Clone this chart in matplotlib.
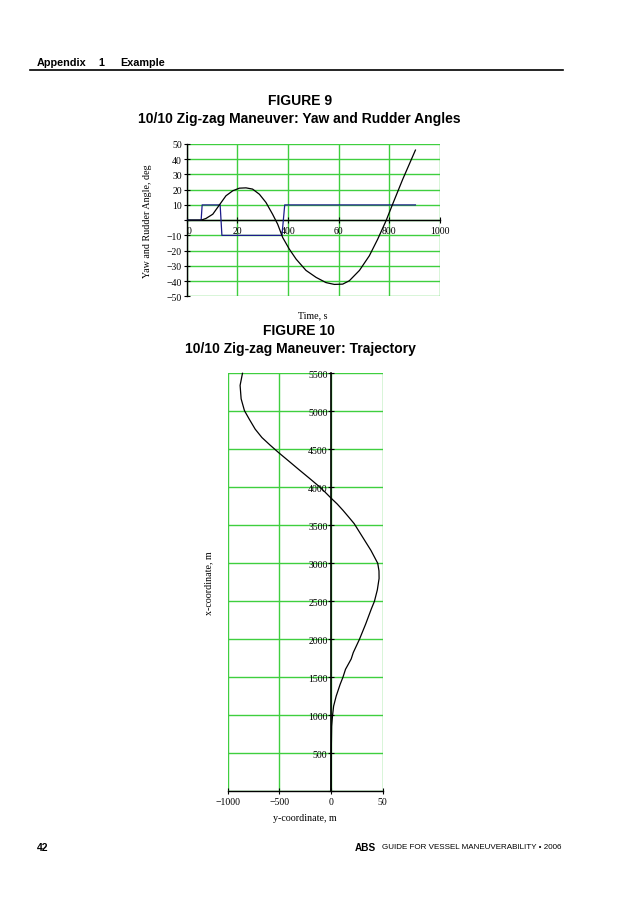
import matplotlib
matplotlib.use("Agg")
import matplotlib.pyplot as plt
from matplotlib.lines import Line2D
from matplotlib import font_manager

# ---------------- data ----------------
# Figure 9: yaw angle and rudder angle vs time
yaw_time = [0, 57, 76, 103, 133, 155, 182, 208, 234, 260, 287, 313, 339, 359,
            379, 405, 432, 471, 511, 550, 583, 616, 642, 682, 721, 754, 787,
            813, 853, 903]
yaw_deg = [0, 0, 1.1, 3.9, 10.9, 16.0, 19.3, 21.0, 21.2, 20.4, 17.0, 11.6, 3.9, -2.6,
           -11.4, -19.0, -25.6, -33.0, -37.6, -41.0, -42.2, -42.0, -39.8, -33.0, -23.4,
           -12.5, -0.4, 10.5, 26.9, 46.0]

rudder_time = [0, 57, 61, 132, 139, 376, 387, 903]
rudder_deg = [0, 0, 10, 10, -10, -10, 10, 10]

fig9_xticks = [0, 200, 400, 600, 800, 1000]
fig9_xticklabels = ['0', '20', '400', '60', '800', '1000']
fig9_yticks = [-50, -40, -30, -20, -10, 0, 10, 20, 30, 40, 50]
fig9_yticklabels = ['\u221250', '\u221240', '\u221230', '\u221220', '\u221210', '',
                    '10', '20', '30', '40', '50']

# Figure 10: trajectory (x-coordinate along the vertical axis, y-coordinate horizontal)
traj_x = [0, 500, 857, 989, 1121, 1253, 1407, 1500, 1605, 1741, 1825, 2000, 2200,
          2400, 2500, 2650, 2800, 2900, 3000, 3170, 3346, 3522, 3610, 3698, 3780,
          3858, 3940, 4013, 4124, 4234, 4345, 4456, 4553, 4655, 4765, 4898, 5009,
          5164, 5341, 5500]
traj_y = [0, 2, 6, 14, 25, 50, 88, 115, 140, 195, 215, 275, 335,
          390, 420, 448, 465, 464, 452, 386, 305, 224, 170, 115, 60,
          0, -60, -117, -214, -312, -409, -507, -588, -669, -734, -792, -838,
          -870, -880, -857]

fig10_xticks = [-1000, -500, 0, 500]
fig10_xticklabels = ['\u22121000', '\u2212500', '0', '50']
fig10_yticks = [0, 500, 1000, 1500, 2000, 2500, 3000, 3500, 4000, 4500, 5000, 5500]
fig10_yticklabels = [''] + [str(v) for v in fig10_yticks[1:]]

# ---------------- styles ----------------
W, H = 638, 903
GREEN = '#3fcf3f'
BLUE = '#1c1c8a'
SERIF = ['Liberation Serif', 'DejaVu Serif']
SANS = ['Liberation Sans', 'DejaVu Sans']
TICK_FS = 7
LABEL_FS = 7.2

installed = {f.name for f in font_manager.fontManager.ttflist}
if 'Liberation Sans Narrow' in installed:
    FOOT_FAMILY, FOOT_FS = ['Liberation Sans Narrow', 'Liberation Sans'], 6.9
else:
    FOOT_FAMILY, FOOT_FS = SANS, 5.8

fig = plt.figure(figsize=(W / 100, H / 100), dpi=100)


def fx(px):
    return px / W


def fy(py):
    return 1 - py / H


# header
fig.text(fx(37), fy(63), 'Appendix', family=SANS, fontweight='bold', fontsize=7.8,
         ha='left', va='center')
fig.text(fx(98), fy(63), '1', family=SANS, fontweight='bold', fontsize=7.8,
         ha='left', va='center')
fig.text(fx(120), fy(63), 'Example', family=SANS, fontweight='bold', fontsize=7.8,
         ha='left', va='center')
fig.add_artist(Line2D([fx(30), fx(563)], [fy(70.5), fy(70.5)], color='black',
                      lw=1.2, transform=fig.transFigure))

# titles
fig.text(fx(300), fy(101), 'FIGURE 9', family=SANS, fontweight='bold', fontsize=10,
         ha='center', va='center')
fig.text(fx(299), fy(119), '10/10 Zig-zag Maneuver: Yaw and Rudder Angles', family=SANS,
         fontweight='bold', fontsize=10, ha='center', va='center')
fig.text(fx(299), fy(331), 'FIGURE 10', family=SANS, fontweight='bold', fontsize=10,
         ha='center', va='center')
fig.text(fx(300), fy(349), '10/10 Zig-zag Maneuver: Trajectory', family=SANS,
         fontweight='bold', fontsize=10, ha='center', va='center')

# footer
fig.text(fx(37), fy(848), '42', family=SANS, fontweight='bold', fontsize=7.5,
         ha='left', va='center')
fig.text(fx(355), fy(848), 'ABS', family=SANS, fontweight='bold', fontsize=7.2,
         ha='left', va='center')
fig.text(fx(562), fy(848), 'GUIDE FOR VESSEL MANEUVERABILITY \u2022 2006',
         family=FOOT_FAMILY, fontsize=FOOT_FS, ha='right', va='center')

# ---------------- Figure 9 ----------------
l9, r9, t9, b9 = 186.7, 440.0, 145.0, 297.3
ax9 = fig.add_axes([fx(l9), fy(b9), (r9 - l9) / W, (b9 - t9) / H])
ax9.set_xlim(0, 1000)
ax9.set_ylim(-50, 50)
ax9.set_xticks(fig9_xticks)
ax9.set_xticklabels(fig9_xticklabels)
ax9.set_yticks(fig9_yticks)
ax9.set_yticklabels(fig9_yticklabels)
ax9.grid(True, color=GREEN, lw=1.0)
ax9.set_axisbelow(True)
for s in ['top', 'right']:
    ax9.spines[s].set_visible(False)
ax9.spines['bottom'].set_position(('data', 0))
ax9.spines['bottom'].set_color('black')
ax9.spines['left'].set_color('black')
ax9.spines['bottom'].set_linewidth(1.0)
ax9.spines['left'].set_linewidth(1.0)
ax9.tick_params(axis='both', direction='inout', length=5, width=0.8, color='black',
                labelsize=TICK_FS, pad=1)
ax9.tick_params(axis='x', pad=2)
for lab in ax9.get_xticklabels() + ax9.get_yticklabels():
    lab.set_family(SERIF)
ax9.get_xticklabels()[0].set_ha('left')

ax9.plot(rudder_time, rudder_deg, color=BLUE, lw=0.9, zorder=3)
ax9.plot(yaw_time, yaw_deg, color='black', lw=0.9, zorder=4)

ax9.set_xlabel('Time, s', family=SERIF, fontsize=LABEL_FS)
ax9.xaxis.set_label_coords((313 - l9) / (r9 - l9), (b9 - 311) / (b9 - t9))
ax9.set_ylabel('Yaw and Rudder Angle, deg', family=SERIF, fontsize=LABEL_FS)
ax9.yaxis.set_label_coords((152 - l9) / (r9 - l9), 0.5)

# ---------------- Figure 10 ----------------
l10, r10, t10, b10 = 227.7, 382.7, 374.3, 792.3
ax10 = fig.add_axes([fx(l10), fy(b10), (r10 - l10) / W, (b10 - t10) / H])
ax10.set_xlim(-1000, 500)
ax10.set_ylim(0, 5500)
ax10.set_xticks(fig10_xticks)
ax10.set_xticklabels(fig10_xticklabels)
ax10.set_yticks(fig10_yticks)
ax10.set_yticklabels(fig10_yticklabels)
ax10.grid(True, color=GREEN, lw=1.0)
ax10.set_axisbelow(True)
for s in ['top', 'right']:
    ax10.spines[s].set_visible(False)
ax10.spines['left'].set_position(('data', 0))
ax10.spines['left'].set_color('black')
ax10.spines['left'].set_linewidth(1.2)
ax10.spines['bottom'].set_color('black')
ax10.spines['bottom'].set_linewidth(1.0)
ax10.tick_params(axis='both', direction='inout', length=4, width=0.8, color='black',
                 labelsize=TICK_FS, pad=0.5)
ax10.tick_params(axis='x', pad=2)
for lab in ax10.get_xticklabels() + ax10.get_yticklabels():
    lab.set_family(SERIF)

ax10.plot(traj_y, traj_x, color='black', lw=0.9, zorder=4, clip_on=False)

ax10.set_xlabel('y-coordinate, m', family=SERIF, fontsize=LABEL_FS)
ax10.xaxis.set_label_coords((305 - l10) / (r10 - l10), (b10 - 814) / (b10 - t10))
ax10.set_ylabel('x-coordinate, m', family=SERIF, fontsize=LABEL_FS)
ax10.yaxis.set_label_coords((213 - l10) / (r10 - l10), (b10 - 583) / (b10 - t10))

fig.savefig('out.png', dpi=100)
